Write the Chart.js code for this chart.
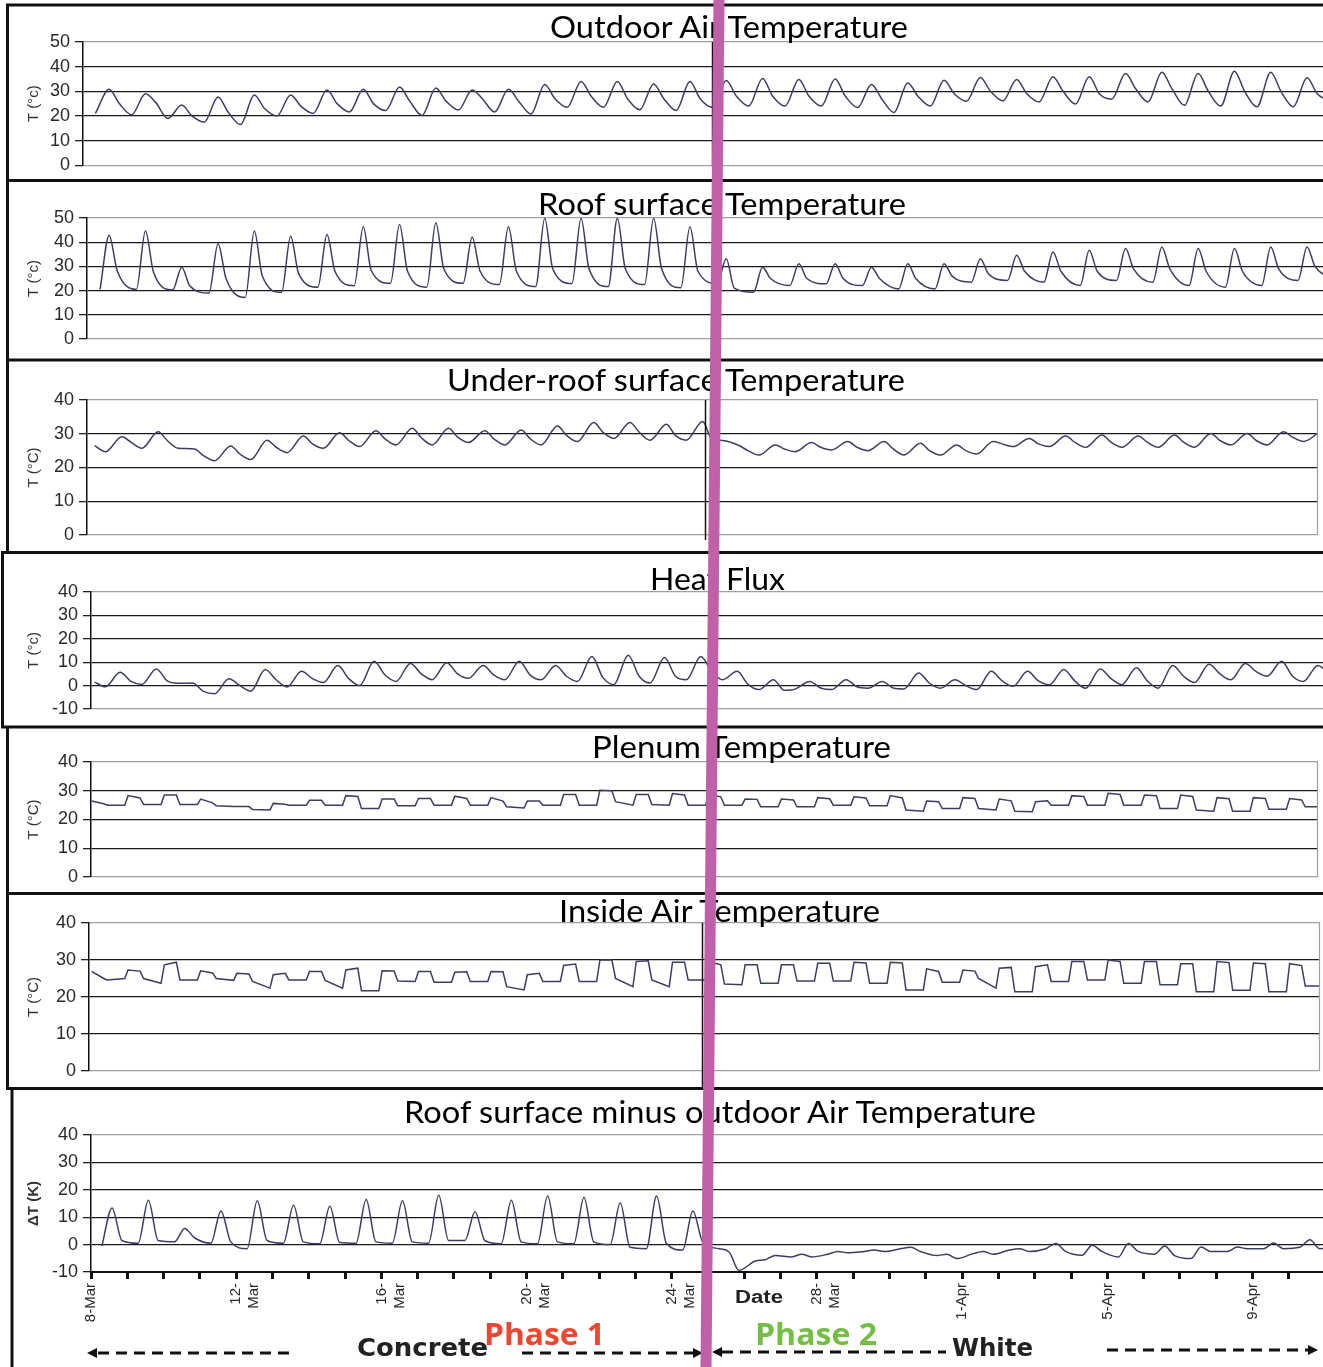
<!DOCTYPE html>
<html>
<head>
<meta charset="utf-8">
<title>Roof temperatures, concrete vs white</title>
<script src="https://cdn.jsdelivr.net/npm/chart.js@4.4.1/dist/chart.umd.min.js"></script>
<style>
  body { margin: 0; background: #fff; overflow: hidden; }
  #page { position: relative; width: 1323px; height: 1367px; }
  #page canvas { position: absolute; left: 0; }
  #overlay { position: absolute; left: 0; top: 0; pointer-events: none; }
</style>
</head>
<body>
<div id="page"></div>
<script>
// Readings are stored one day after another (day 0 = 8-Mar),
// sampled at the day fractions given in the matching *Times array.

const outdoorTimes = [0.12, 0.5, 0.78];
const outdoorAir = [
  21, 30.8, 25,   20.5, 29, 25.5,   19, 24.4, 20,   17.5, 27.7, 21.5,
  16.5, 28.5, 23,   20, 28.5, 24,   21, 30.5, 25,   21.6, 30.8, 25,
  22.2, 31.7, 26,   20.2, 31.3, 26,   22.4, 30.5, 27,   21.6, 30.8, 26,
  20.8, 32.8, 27,   23.5, 34, 28,   23.5, 34, 27,   22.5, 33, 27,
  22.2, 34, 27,   23.5, 34.4, 28,   24, 35.2, 28,   24, 34.8, 28,
  24, 35, 28,   23.4, 32.8, 27,   21.4, 33.4, 28,   24, 34.5, 29,
  26, 35.6, 30,   26.1, 34.8, 29,   25.7, 35.9, 30,   24.8, 35.9, 29,
  26.8, 37.2, 31,   25.7, 37.7, 31,   24.3, 37.2, 30,   24, 38.1, 30,
  23.7, 37.7, 30,   23.7, 35.5, 29,   26
];

const roofTimes = [0.25, 0.5, 0.72];
const roofSurface = [
  20.5, 42.9, 28.3,   20.5, 44.6, 27.7,   20.3, 29.7, 22,   19, 39.4, 25,
  17.2, 44.6, 26,   19.3, 42.5, 27,   21.4, 43.2, 28,   22, 46.4, 28.3,
  23, 47.3, 28,   21.4, 48, 29,   23, 42, 28,   22.5, 46.4, 28,
  21.7, 49.9, 29,   22.9, 49.9, 29,   21.7, 49.9, 29,   22.5, 49.9, 29,
  21.2, 46.4, 28,   23, 33.2, 21,   19.3, 29.7, 25,   22.1, 31.1, 25,
  22.8, 31.1, 25,   22.1, 29.7, 25,   20.7, 31.1, 25,   20.7, 31.1, 26,
  23.5, 33.2, 27,   24.2, 34.6, 28,   23.5, 36, 28,   22.1, 36.7, 28,
  24.2, 37.4, 29,   23.5, 38, 29,   22.1, 37.4, 28,   21.4, 37.4, 28,
  22.1, 38, 29,   24.2, 38, 30,   25
];

const underRoofTimes = [0.1, 0.4, 0.85];
const underRoof = [
  26.5, 24.7, 29.1,   27.5, 25.7, 30.6,   28, 25.7, 25.5,   23.5, 22, 26.4,
  24, 22.4, 28.1,   26, 24.4, 29.3,   27, 25.7, 30.3,   28, 26.2, 30.9,
  28.5, 26.7, 31.6,   28.8, 26.7, 31.6,   29, 27.4, 30.9,   28.5, 26.7, 31.1,
  28.5, 26.7, 32.3,   29.5, 27.7, 33.3,   30.5, 28.6, 33.3,   30.5, 28.1, 32.8,
  29.5, 28.1, 33.6,   28.5, 28, 26.5,   25, 23.7, 26.7,   25.5, 24.7, 27.4,
  26, 25.2, 27.7,   26, 25, 27.7,   25.5, 23.7, 27.2,   25, 23.7, 26.7,
  25, 24, 27.7,   27, 26.2, 28.6,   27, 26.2, 29.3,   27.5, 26, 29.6,
  27.5, 26, 29.3,   27.5, 26, 29.6,   27.5, 26, 30.1,   28, 26.7, 30.1,
  28, 26.7, 30.6,   29, 27.7, 30.6
];

const heatFluxTimes = [0.1, 0.4, 0.8];
const heatFlux = [
  1.5, -0.5, 5.7,   1.8, 0.5, 7.1,   2, 1, 1.1,   -2.5, -3.5, 2.9,
  0, -2.4, 6.9,   2.5, -0.6, 6.1,   3, 1.3, 8.6,   3, 0, 10.4,
  4.5, 1.8, 9.4,   5, 2.5, 9.8,   5, 3.1, 8.6,   4.5, 2.5, 10.4,
  4.5, 2.5, 8.6,   4, 1.8, 12.4,   3.5, 0.4, 13,   4, 1.1, 12,
  4, 2.5, 12.4,   6, 2.5, 6.1,   0.5, -1.7, 2.5,   -2, -1.5, 1.8,
  -1, -1.7, 2.5,   -0.5, -1.1, 1.8,   -1, -1.4, 5.4,   1, -1.1, 2.5,
  0, -1.7, 6.1,   2, -0.3, 6.1,   2, 0.4, 6.9,   2, -1.1, 7.1,
  3, 0.4, 7.6,   2, -1.1, 8.6,   4, 1.3, 9.1,   5, 2.5, 9.4,
  6, 4, 10.4,   4, 1.8, 8.6,   5
];

const plenumTimes = [0.02, 0.35, 0.45, 0.93];
const plenum = [
  26.4, 25.5, 25, 25,   28.3, 27.5, 25.2, 25.2,   28.5, 28.5, 25.2, 25.2,
  27.1, 25.8, 24.8, 24.5,   24.5, 24.5, 23.5, 23.3,   25.6, 25.3, 25, 25,
  26.7, 26.7, 25, 25,   28.3, 28, 23.8, 23.8,   27.1, 27.1, 24.8, 24.8,
  27.3, 27.3, 25, 25,   28.1, 27.3, 25, 25,   27.6, 26.4, 24.4, 24,
  26.4, 26.4, 25, 25,   28.7, 28.7, 25, 25,   30.2, 30, 26.2, 25,
  28.7, 28.7, 25.2, 25,   29, 28.5, 25, 25,   28.7, 27.9, 25, 25,
  27.1, 27, 24.4, 24.4,   27.1, 26.8, 24.4, 24.4,   27.6, 27.2, 25, 25,
  27.9, 27.5, 24.8, 24.8,   28.3, 27.5, 23.3, 22.9,   26.4, 26.2, 23.8, 23.8,
  27.6, 27.3, 23.8, 23.3,   27.1, 26.5, 22.9, 22.7,   26.2, 26.5, 25, 25,
  28.3, 28, 25, 25,   29.1, 28.7, 25, 25,   28.5, 28.3, 23.8, 23.8,
  28.5, 28, 23.3, 22.9,   27.6, 27.2, 22.9, 22.9,   27.6, 27.3, 23.6, 23.6,
  27.3, 26.8, 24.4, 24.4,   29.1
];

const insideTimes = [0.02, 0.35, 0.45, 0.93];
const insideAir = [
  26.9, 25, 24.6, 25,   27.3, 27, 25, 23.7,   28.7, 29.4, 24.6, 24.6,
  27.1, 26.5, 25, 24.5,   26.4, 26.2, 24.2, 22.4,   26, 26.4, 24.6, 24.6,
  26.9, 26.9, 24.5, 22.4,   27.3, 27.8, 21.7, 21.7,   27.1, 27, 24.3, 24.2,
  26.9, 26.9, 24, 24,   26.7, 26.8, 24.2, 24.2,   26.9, 26.8, 22.8, 21.9,
  26, 26.4, 24.2, 24.2,   28.5, 28.9, 24.2, 24.2,   30, 30, 25, 22.8,
  29.6, 29.8, 24.6, 22.8,   29.4, 29.4, 24.6, 24.6,   29.6, 28.7, 23.5, 23.3,
  28.7, 28.7, 23.7, 23.7,   28.7, 28.7, 24.3, 24.3,   29.1, 29.1, 24.3, 24.3,
  29.4, 29.2, 23.7, 23.7,   29.4, 29.2, 21.9, 21.9,   27.6, 26.9, 24, 24,
  27.3, 27, 25, 22.4,   27.8, 28, 21.4, 21.4,   28.2, 28.7, 24.2, 24.2,
  29.6, 29.6, 24.6, 24.6,   30, 29.6, 23.7, 23.7,   29.6, 29.6, 23.3, 23.3,
  29, 29, 21.4, 21.4,   29.6, 29.3, 21.8, 21.8,   29.2, 29, 21.4, 21.4,
  29, 28.5, 23, 23,   29.5
];

const deltaTimes = [0.3, 0.58, 0.85];
const roofMinusOutdoor = [
  -0.5, 13.4, 1.5,   0.5, 16.2, 1.5,   1, 5.9, 2.5,   0.5, 12.3, 1,
  -1.5, 16, 1.5,   0.5, 14.4, 1,   0.3, 14, 0.8,   0.5, 16.5, 1,
  0.5, 16, 1,   0.5, 18, 1.5,   1.5, 12, 1.5,   0.3, 16.2, 1,
  0.3, 17.7, 1,   0.3, 17.2, 1,   0, 15.2, -1,   -1.5, 17.7, 0.5,
  -2, 12.3, 1,   -1.5, -2.7, -9.4,   -6, -5.5, -4,   -4.5, -3.5, -4.5,
  -3.5, -2.5, -3,   -2.5, -2, -2.5,   -1.5, -1, -2.5,   -4, -3.5, -5.1,
  -3.3, -2.5, -3.5,   -2, -1.5, -2.5,   -1.5, 0.4, -2.5,   -3.9, -0.2, -2.5,
  -4.5, 0.4, -2.5,   -3.5, -0.5, -4,   -5.1, -0.9, -2.5,   -2.5, -0.9, -1.5,
  -1.5, 0.6, -1.5,   -1, 1.8, -1.5,   -1
];

// x axis of the bottom panel
const dateLabelDays = [0, 4, 8, 12, 16, 20, 24, 28, 32];
const dateLabels = ['8-Mar', ['12-', 'Mar'], ['16-', 'Mar'], ['20-', 'Mar'], ['24-', 'Mar'],
                    ['28-', 'Mar'], '1-Apr', '5-Apr', '9-Apr'];

// page layout
const dayX0 = 91, pxPerDay = 36.3;
const panels = [
  { values: outdoorAir, times: outdoorTimes, top: 5, height: 176, axisX: 83, rightX: 1323,
    plotTop: 42, plotBottom: 167, min: 0, max: 50, yTitle: 'T (°c)', smooth: true, phaseAt: 17.11 },
  { values: roofSurface, times: roofTimes, top: 181, height: 179, axisX: 87, rightX: 1323,
    plotTop: 218, plotBottom: 339, min: 0, max: 50, yTitle: 'T (°c)', smooth: true },
  { values: underRoof, times: underRoofTimes, top: 360, height: 193, axisX: 87, rightX: 1318,
    plotTop: 400, plotBottom: 535, min: 0, max: 40, yTitle: 'T (°C)', smooth: true,
    phaseAt: 16.91, phaseExtend: 5, rightEdge: true },
  { values: heatFlux, times: heatFluxTimes, top: 553, height: 174, axisX: 91, rightX: 1323,
    plotTop: 592, plotBottom: 709, min: -10, max: 40, yTitle: 'T (°c)', smooth: true },
  { values: plenum, times: plenumTimes, top: 727, height: 166, axisX: 91, rightX: 1318,
    plotTop: 762, plotBottom: 877, min: 0, max: 40, yTitle: 'T (°C)', rightEdge: true },
  { values: insideAir, times: insideTimes, top: 893, height: 195, axisX: 89, rightX: 1320,
    plotTop: 923, plotBottom: 1071, min: 0, max: 40, yTitle: 'T (°C)',
    phaseAt: 16.83, phaseExtend: 17, rightEdge: true },
  { values: roofMinusOutdoor, times: deltaTimes, top: 1089, height: 278, axisX: 91, rightX: 1323,
    plotTop: 1135, plotBottom: 1272, min: -10, max: 40, yTitle: 'ΔT (K)', boldTitle: true,
    smooth: true, dates: true }
];

const sans = "'Liberation Sans', Arial, sans-serif";

const panelExtras = {
  id: 'panelExtras',
  afterDatasetsDraw(chart, args, opts) {
    const ctx = chart.ctx, area = chart.chartArea;
    ctx.save();
    if (opts.rightEdge) {
      ctx.strokeStyle = '#a0a0a0';
      ctx.lineWidth = 1.2;
      ctx.beginPath();
      ctx.moveTo(area.right - 0.5, area.top);
      ctx.lineTo(area.right - 0.5, area.bottom);
      ctx.stroke();
    }
    if (opts.phaseAt != null) {
      const x = Math.round(chart.scales.x.getPixelForValue(opts.phaseAt)) + 0.5;
      ctx.strokeStyle = '#111';
      ctx.lineWidth = 1.5;
      ctx.beginPath();
      ctx.moveTo(x, area.top);
      ctx.lineTo(x, area.bottom + (opts.phaseExtend || 0));
      ctx.stroke();
    }
    ctx.restore();
  }
};

function toPoints(values, times) {
  return values.map(function(v, i) {
    const day = Math.floor(i / times.length);
    return { x: day + times[i % times.length], y: v };
  });
}

function makePanel(p) {
  const canvas = document.createElement('canvas');
  canvas.width = 1323;
  canvas.height = p.height;
  canvas.style.top = p.top + 'px';
  document.getElementById('page').appendChild(canvas);

  const xHeight = p.top + p.height - p.plotBottom;
  new Chart(canvas, {
    type: 'line',
    data: {
      datasets: [{
        data: toPoints(p.values, p.times),
        borderColor: '#3b3e63',
        borderWidth: 1.5,
        pointRadius: 0,
        cubicInterpolationMode: p.smooth ? 'monotone' : 'default',
        tension: 0
      }]
    },
    options: {
      responsive: false,
      devicePixelRatio: 1,
      animation: false,
      events: [],
      layout: {
        padding: {
          left: 24,
          right: 1323 - p.rightX,
          top: p.plotTop - p.top,
          bottom: p.dates ? 0 : xHeight
        }
      },
      plugins: {
        legend: { display: false },
        tooltip: { enabled: false },
        panelExtras: { phaseAt: p.phaseAt, phaseExtend: p.phaseExtend, rightEdge: p.rightEdge }
      },
      scales: {
        x: {
          type: 'linear',
          display: !!p.dates,
          min: (p.axisX - dayX0) / pxPerDay,
          max: (p.rightX - dayX0) / pxPerDay,
          afterFit: function(s) { if (p.dates) s.height = xHeight; },
          grid: { drawOnChartArea: false, drawTicks: true, tickLength: 7, tickWidth: 3, tickColor: '#111' },
          border: { display: true, color: '#111', width: 2 },
          ticks: {
            stepSize: 1,
            autoSkip: false,
            includeBounds: false,
            minRotation: 90,
            maxRotation: 90,
            padding: 4,
            color: '#2a2a2a',
            font: { family: sans, size: 15 },
            callback: function(v) {
              const i = dateLabelDays.indexOf(v);
              return i >= 0 ? dateLabels[i] : '';
            }
          }
        },
        y: {
          min: p.min,
          max: p.max,
          afterFit: function(s) { s.width = p.axisX - 24; },
          grid: {
            color: function(c) {
              return (c.tick.value === p.max || c.tick.value === p.min) ? '#a0a0a0' : '#1a1a1a';
            },
            lineWidth: 1.3,
            tickLength: 8,
            tickColor: '#222'
          },
          border: { color: '#111', width: 1.5 },
          ticks: {
            stepSize: 10,
            autoSkip: false,
            padding: 5,
            color: '#2a2a2a',
            font: { family: sans, size: 18 }
          },
          title: {
            display: true,
            text: p.yTitle,
            color: '#333',
            padding: 1,
            font: { family: sans, size: 15, weight: p.boldTitle ? 'bold' : 'normal' }
          }
        }
      }
    },
    plugins: [panelExtras]
  });
}

panels.forEach(makePanel);

// frames, titles, phase marks
const titles = [
  ['Outdoor Air Temperature', 550, 38, 358],
  ['Roof surface Temperature', 538, 215, 368],
  ['Under-roof surface Temperature', 447, 391, 458],
  ['Heat Flux', 650, 590, 135],
  ['Plenum Temperature', 592, 758, 299],
  ['Inside Air Temperature', 559, 922, 321],
  ['Roof surface minus outdoor Air Temperature', 404, 1123, 632]
];
const frameRows = [[5, 6], [180.5, 6], [360, 6], [552.5, 1], [727, 1], [893.5, 6], [1088.5, 6]];
const frameCols = [[7.5, 4, 554], [2.5, 551, 728], [7.5, 726, 1090], [12, 1087, 1367]];

function text(str, x, y, w, font, color) {
  return '<text x="' + x + '" y="' + y + '" textLength="' + w + '" lengthAdjust="spacingAndGlyphs" ' +
         'style="font:' + font + '" fill="' + (color || '#000') + '">' + str + '</text>';
}
function dashes(x1, x2, y) {
  return '<line x1="' + x1 + '" y1="' + y + '" x2="' + x2 + '" y2="' + y +
         '" stroke="#111" stroke-width="3" stroke-dasharray="11 7"/>';
}
function head(tip, y, dir) {
  const b = tip - dir * 10;
  return '<polygon points="' + tip + ',' + y + ' ' + b + ',' + (y - 5) + ' ' + b + ',' + (y + 5) + '" fill="#111"/>';
}

let svg = '<svg id="overlay" width="1323" height="1367" xmlns="http://www.w3.org/2000/svg">';
frameRows.forEach(function(r) {
  svg += '<line x1="' + r[1] + '" y1="' + r[0] + '" x2="1323" y2="' + r[0] + '" stroke="#111" stroke-width="3"/>';
});
frameCols.forEach(function(c) {
  svg += '<line x1="' + c[0] + '" y1="' + c[1] + '" x2="' + c[0] + '" y2="' + c[2] + '" stroke="#111" stroke-width="3"/>';
});
titles.forEach(function(t) {
  svg += text(t[0], t[1], t[2], t[3], "30px Lato, 'Open Sans', sans-serif");
});
svg += text('Date', 735, 1303, 48, "bold 18px 'Liberation Sans', Arial, sans-serif", '#222');
svg += text('Concrete', 357, 1356, 131, "bold 24px 'DejaVu Sans', sans-serif", '#222');
svg += text('White', 952, 1356, 81, "bold 24px 'DejaVu Sans', sans-serif", '#222');
svg += dashes(98, 290, 1353) + head(87, 1353, -1);
svg += dashes(522, 693, 1353) + head(703, 1353, 1);
svg += dashes(722, 946, 1352) + head(712, 1352, -1);
svg += dashes(1107, 1308, 1350) + head(1318, 1350, 1);
svg += text('Phase 1', 484, 1345, 121, "bold 31px 'Open Sans', sans-serif", '#ef4630');
svg += text('Phase 2', 755, 1345, 122, "bold 31px 'Open Sans', sans-serif", '#74be45');
svg += '<line x1="719" y1="0" x2="706" y2="1367" stroke="#c060a8" stroke-width="11"/>';
svg += '</svg>';
document.getElementById('page').insertAdjacentHTML('beforeend', svg);
</script>
</body>
</html>
